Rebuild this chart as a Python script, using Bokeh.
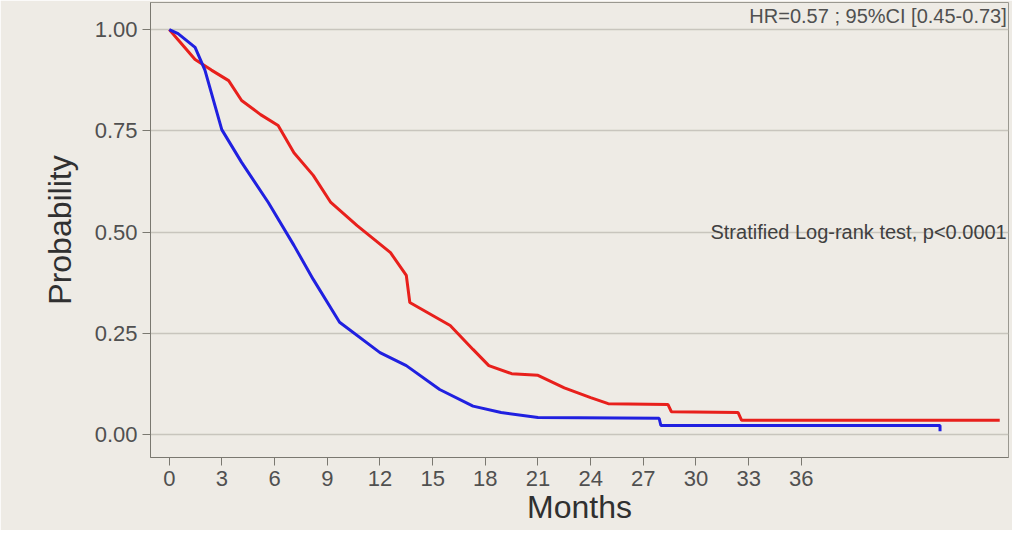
from bokeh.plotting import figure
from bokeh.models import Label, FixedTicker, NumeralTickFormatter
from bokeh.embed import file_html
from bokeh.resources import INLINE

red_t = [0, 0.5, 1.47, 2.4, 3.38, 4.12, 5.2, 6.2, 7.1, 8.2, 9.2, 10.7, 12.6, 13.5, 13.7, 16.0, 17.3, 18.2, 19.5, 21.0, 22.5, 24.0, 25.0, 28.4, 28.6, 32.4, 32.6, 47.3]
red_s = [1.0, 0.975, 0.926, 0.90, 0.874, 0.825, 0.79, 0.763, 0.696, 0.64, 0.573, 0.516, 0.449, 0.393, 0.326, 0.269, 0.210, 0.170, 0.150, 0.146, 0.115, 0.091, 0.076, 0.074, 0.056, 0.054, 0.035, 0.035]
blue_t = [0, 0.5, 1.47, 2.03, 2.99, 4.12, 5.64, 7.1, 8.2, 9.7, 12.0, 13.5, 15.4, 17.3, 18.9, 21.0, 27.9, 28.0, 43.9, 43.9]
blue_s = [1.0, 0.99, 0.956, 0.90, 0.753, 0.672, 0.573, 0.467, 0.383, 0.277, 0.202, 0.170, 0.111, 0.070, 0.054, 0.042, 0.040, 0.022, 0.022, 0.008]
x_ticks = [0, 3, 6, 9, 12, 15, 18, 21, 24, 27, 30, 33, 36]
y_ticks = [0, 0.25, 0.5, 0.75, 1.0]

bg = "#eeebe5"
p = figure(width=1012, height=530, output_backend="svg", toolbar_location=None,
           x_range=(-1.07, 47.8), y_range=(-0.057, 1.067),
           min_border_left=150, min_border_right=4, min_border_top=2, min_border_bottom=73)
p.background_fill_color = bg
p.border_fill_color = bg
p.outline_line_color = "#9a9890"

p.line(red_t, red_s, line_color="#e8201c", line_width=3)
p.line(blue_t, blue_s, line_color="#2020e0", line_width=3)

p.xaxis.ticker = FixedTicker(ticks=x_ticks)
p.yaxis.ticker = FixedTicker(ticks=y_ticks)
p.yaxis.formatter = NumeralTickFormatter(format="0.00")
p.xgrid.grid_line_color = None
p.ygrid.grid_line_color = "#c8c5bd"
p.ygrid.grid_line_width = 1.5
for ax in (p.xaxis, p.yaxis):
    ax.axis_line_color = "#7a7870"
    ax.major_tick_line_color = "#7a7870"
    ax.minor_tick_line_color = None
    ax.major_tick_out = 8
    ax.major_tick_in = 0
    ax.major_label_text_font = "Liberation Sans"
    ax.major_label_text_font_size = "22px"
    ax.major_label_text_color = "#505050"
    ax.axis_label_text_font = "Liberation Sans"
    ax.axis_label_text_font_size = "32px"
    ax.axis_label_text_font_style = "normal"
    ax.axis_label_text_color = "#303030"
p.xaxis.axis_label = "Months"
p.yaxis.axis_label = "Probability"
p.xaxis.axis_label_standoff = 0
p.yaxis.axis_label_standoff = 14

p.add_layout(Label(x=47.7, y=1.067, x_units="data", y_units="data", text="HR=0.57 ; 95%CI [0.45-0.73]",
                   text_align="right", text_baseline="top", text_font="Liberation Sans",
                   text_font_size="20px", text_color="#505050", y_offset=-2))
p.add_layout(Label(x=47.7, y=0.5, text="Stratified Log-rank test, p<0.0001",
                   text_align="right", text_baseline="middle", text_font="Liberation Sans",
                   text_font_size="20px", text_color="#404040"))

open("out.html", "w").write(file_html(p, INLINE))
